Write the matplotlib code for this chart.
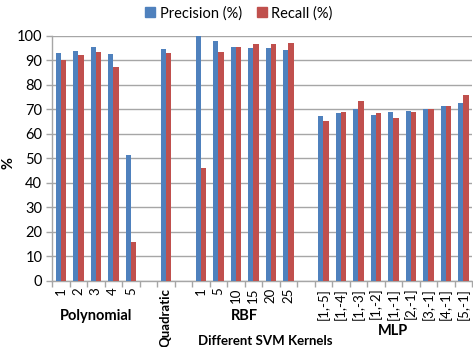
import matplotlib
matplotlib.use("Agg")
import matplotlib.pyplot as plt
from matplotlib.patches import Patch
import numpy as np

plt.rcParams['font.family'] = ['Lato', 'DejaVu Sans']

# Category slots along the x axis ("" marks an empty spacer slot)
categories = ["1", "2", "3", "4", "5", "", "Quadratic", "",
              "1", "5", "10", "15", "20", "25", "",
              "[1,-5]", "[1,-4]", "[1,-3]", "[1,-2]", "[1,-1]",
              "[2,-1]", "[3,-1]", "[4,-1]", "[5,-1]"]

precision = [92.8, 93.9, 95.3, 92.5, 51.3, None, 94.6, None,
             100.0, 97.7, 95.5, 95.1, 94.8, 94.0, None,
             67.3, 68.4, 70.1, 67.5, 68.9, 69.4, 70.2, 71.3, 72.7]

recall = [90.1, 92.0, 93.5, 87.2, 15.8, None, 93.1, None,
          46.0, 93.2, 95.5, 96.7, 96.7, 97.0, None,
          65.1, 68.9, 73.3, 68.3, 66.4, 68.7, 70.1, 71.3, 75.9]

# Kernel groups: (name, first slot, last slot)
groups = [("Polynomial", 0, 4), ("RBF", 8, 13), ("MLP", 15, 23)]

blue = "#4F81BD"
red = "#C0504D"
grid_gray = "#A6A6A6"

fig = plt.figure(figsize=(4.73, 3.47), dpi=100)
ax = fig.add_axes([0.110, 0.191, 0.888, 0.706])

idx = [i for i, c in enumerate(categories) if c != ""]
x = np.array(idx, dtype=float)
p = [precision[i] for i in idx]
r = [recall[i] for i in idx]
w = 0.3
ax.bar(x - w / 2, p, width=w, color=blue, zorder=3, label="Precision (%)")
ax.bar(x + w / 2, r, width=w, color=red, zorder=3, label="Recall (%)")

ax.set_xlim(-0.5, len(categories) - 0.5)
ax.set_ylim(0, 100)
ax.set_yticks(np.arange(0, 101, 10))
ax.yaxis.grid(True, color=grid_gray, linewidth=1.0, zorder=0)
ax.tick_params(axis="y", length=4, color=grid_gray, width=1.0, labelsize=10.5, pad=3)

for s in ("top", "right"):
    ax.spines[s].set_visible(False)
for s in ("left", "bottom"):
    ax.spines[s].set_color(grid_gray)
    ax.spines[s].set_linewidth(1.0)

# category labels (rotated) with boundary tick marks
ax.set_xticks(x)
ax.set_xticklabels([categories[i] for i in idx], rotation=90, fontsize=9.5,
                   va="top", ha="center")
ax.tick_params(axis="x", which="major", length=0, pad=5)
ax.set_xticks(np.arange(-0.5, len(categories), 1.0), minor=True)
ax.tick_params(axis="x", which="minor", length=4, color=grid_gray, width=1.0)
for lbl in ax.get_xticklabels():
    if lbl.get_text() == "Quadratic":
        lbl.set_fontweight("bold")
        lbl.set_fontsize(9.5)

# group labels below the rotated category labels
trans = ax.get_xaxis_transform()
group_y = {"Polynomial": -0.145, "RBF": -0.145, "MLP": -0.205}
for name, a, b in groups:
    ax.text((a + b) / 2, group_y[name], name, transform=trans, ha="center",
            va="center", fontsize=10.5, fontweight="bold")

fig.text(0.56, 0.017, "Different SVM Kernels", ha="center", va="center",
         fontsize=9.5, fontweight="bold")
fig.text(0.018, 0.53, "%", ha="center", va="center", rotation=90, fontsize=10.5,
         fontweight="bold")

handles = [Patch(color=blue, label="Precision (%)"), Patch(color=red, label="Recall (%)")]
fig.legend(handles=handles, loc="center", bbox_to_anchor=(0.505, 0.962), ncol=2,
           frameon=False, fontsize=10.5, handlelength=0.7, handleheight=0.7,
           handletextpad=0.3, columnspacing=1.0)

fig.savefig("out.png", dpi=100)
